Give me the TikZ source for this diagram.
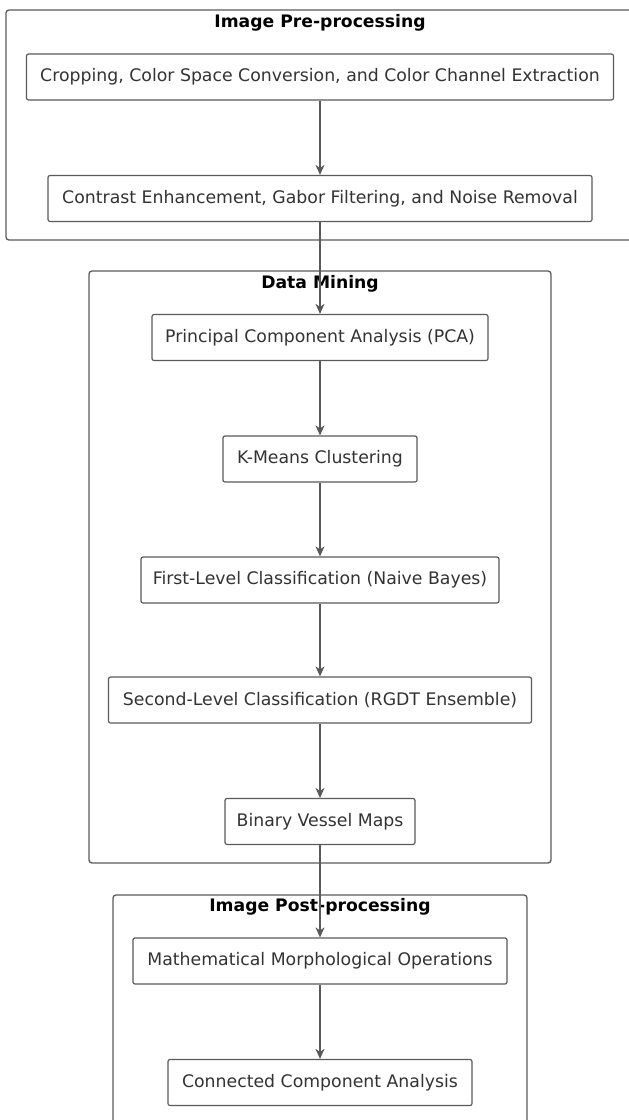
\documentclass[tikz,border=0pt]{standalone}
\usepackage{fontspec}
\setmainfont{DejaVu Sans}
\usetikzlibrary{arrows.meta}
\definecolor{edgegray}{HTML}{5A5A5A}
\definecolor{txtgray}{HTML}{333333}
\tikzset{
  stepbox/.style={draw=edgegray, line width=1.2pt, rounded corners=2pt, fill=white,
    minimum height=46pt, inner sep=0pt, text=txtgray, font=\fontsize{17.3}{20}\selectfont},
  clusterbox/.style={draw=edgegray, line width=1.3pt, rounded corners=3pt},
  clustertitle/.style={font=\bfseries\fontsize{17.2}{20}\selectfont, text=black, inner sep=0pt},
  flow/.style={draw=edgegray, line width=1.2pt, -{Stealth[length=10pt,width=9pt,inset=3pt]}}
}
\begin{document}
\begin{tikzpicture}[x=1pt,y=-1pt]
\useasboundingbox (0,0) rectangle (629,1120);
% clusters
\draw[clusterbox] (6,10) rectangle (634,240);
\draw[clusterbox] (89,271) rectangle (551,863);
\draw[clusterbox] (113,895) rectangle (527,1135);
\node[clustertitle] (t1) at (320,23) {Image Pre-processing};
\node[clustertitle] (t2) at (320,284) {Data Mining};
\node[clustertitle] (t3) at (320,907) {Image Post-processing};
% steps
\node[stepbox, minimum width=587pt] (b1) at (320,77) {Cropping, Color Space Conversion, and Color Channel Extraction};
\node[stepbox, minimum width=544pt] (b2) at (320,198.5) {Contrast Enhancement, Gabor Filtering, and Noise Removal};
\node[stepbox, minimum width=336pt] (b3) at (320,337.5) {Principal Component Analysis (PCA)};
\node[stepbox, minimum width=194pt] (b4) at (320,459) {K-Means Clustering};
\node[stepbox, minimum width=358pt] (b5) at (320,580) {First-Level Classification (Naive Bayes)};
\node[stepbox, minimum width=423pt] (b6) at (320,700) {Second-Level Classification (RGDT Ensemble)};
\node[stepbox, minimum width=190pt] (b7) at (320,821.5) {Binary Vessel Maps};
\node[stepbox, minimum width=374pt] (b8) at (320,961) {Mathematical Morphological Operations};
\node[stepbox, minimum width=304pt] (b9) at (320,1082.5) {Connected Component Analysis};
% connectors
\draw[flow] (b1) -- (b2);
\draw[flow] (b2) -- (b3);
\draw[flow] (b3) -- (b4);
\draw[flow] (b4) -- (b5);
\draw[flow] (b5) -- (b6);
\draw[flow] (b6) -- (b7);
\draw[flow] (b7) -- (b8);
\draw[flow] (b8) -- (b9);
\end{tikzpicture}
\end{document}
